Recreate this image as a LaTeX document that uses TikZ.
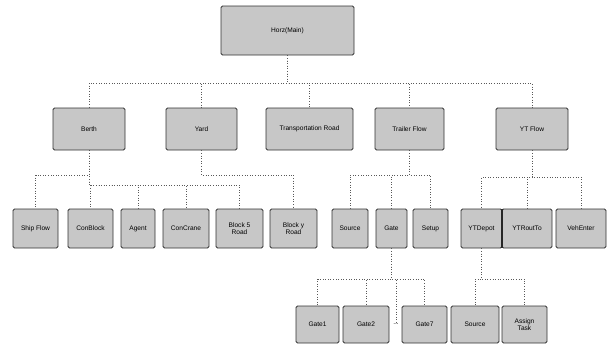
\documentclass[tikz,border=0pt]{standalone}
\usepackage{fontspec}
\setmainfont{Liberation Sans}
\begin{document}
\begin{tikzpicture}[x=1pt,y=-1pt,
  box/.style={draw=black!80,line width=0.9pt,fill=black!22,rounded corners=1.5pt,
    inner sep=1pt,align=center,font=\fontsize{6.6}{7.5}\selectfont},
  conn/.style={draw=black!65,dotted,line width=0.6pt}]
\useasboundingbox (0,0) rectangle (610,346);
% level 1
\node[box,minimum width=133pt,minimum height=49pt] (main) at (287.5,30.5) {Horz(Main)};
% level 2
\node[box,minimum width=72pt,minimum height=42pt] (berth) at (89,129) {Berth};
\node[box,minimum width=71pt,minimum height=42pt] (yard) at (201.5,129) {Yard};
\node[box,minimum width=87pt,minimum height=42pt] (trans) at (309.5,129) {Transportation Road};
\node[box,minimum width=69pt,minimum height=42pt] (trailer) at (409.5,129) {Trailer Flow};
\node[box,minimum width=72pt,minimum height=42pt] (ytflow) at (532,129) {YT Flow};
% level 3
\node[box,minimum width=45pt,minimum height=39pt] (ship) at (35.5,228.5) {Ship Flow};
\node[box,minimum width=45pt,minimum height=39pt] (conblock) at (90.5,228.5) {ConBlock};
\node[box,minimum width=34pt,minimum height=39pt] (agent) at (138,228.5) {Agent};
\node[box,minimum width=46pt,minimum height=39pt] (concrane) at (186,228.5) {ConCrane};
\node[box,minimum width=47pt,minimum height=39pt] (blockx) at (239.5,228.5) {Block 5\\Road};
\node[box,minimum width=47pt,minimum height=39pt] (blocky) at (293.5,228.5) {Block y\\Road};
\node[box,minimum width=36pt,minimum height=39pt] (source) at (350,228.5) {Source};
\node[box,minimum width=31pt,minimum height=39pt] (gate) at (391.5,228.5) {Gate};
\node[box,minimum width=35pt,minimum height=39pt] (setup) at (430.5,228.5) {Setup};
\node[box,minimum width=41pt,minimum height=39pt] (ytdepot) at (481.5,228.5) {YTDepot};
\node[box,minimum width=50pt,minimum height=39pt] (ytrout) at (527,228.5) {YTRoutTo};
\node[box,minimum width=50pt,minimum height=39pt] (veh) at (581,228.5) {VehEnter};
\draw[black!85,line width=2pt] (ytdepot.north east) -- (ytdepot.south east);
% level 4
\node[box,minimum width=43pt,minimum height=37pt] (gate1) at (317.5,324.5) {Gate1};
\node[box,minimum width=46pt,minimum height=37pt] (gate2) at (366,324.5) {Gate2};
\node[inner sep=0pt,font=\fontsize{6.6}{7.5}\selectfont] (dots) at (396,324) {...};
\node[box,minimum width=45pt,minimum height=37pt] (gate7) at (424.5,324.5) {Gate7};
\node[box,minimum width=48pt,minimum height=37pt] (source2) at (475,324.5) {Source};
\node[box,minimum width=45pt,minimum height=37pt] (assign) at (524.5,324.5) {Assign\\Task};
% bus coordinates
\coordinate (b1) at (0,83);
\coordinate (b2) at (0,175);
\coordinate (b3) at (0,185);
\coordinate (b4) at (0,177);
\coordinate (b5) at (0,279);
% connectors
\foreach \c in {berth,yard,trans,trailer,ytflow}
  \draw[conn] (main.south) -- (main.south|-b1) -| (\c.north);
\draw[conn] (berth.south) -- (berth.south|-b2) -| (ship.north);
\foreach \c in {conblock,agent,concrane,blockx}
  \draw[conn] (berth.south) -- (berth.south|-b3) -| (\c.north);
\draw[conn] (yard.south) -- (yard.south|-b2) -| (blocky.north);
\foreach \c in {source,gate,setup}
  \draw[conn] (trailer.south) -- (trailer.south|-b2) -| (\c.north);
\foreach \c in {ytdepot,ytrout,veh}
  \draw[conn] (ytflow.south) -- (ytflow.south|-b4) -| (\c.north);
\foreach \c in {gate1,gate2,dots,gate7}
  \draw[conn] (gate.south) -- (gate.south|-b5) -| (\c.north);
\foreach \c in {source2,assign}
  \draw[conn] (ytdepot.south) -- (ytdepot.south|-b5) -| (\c.north);
\end{tikzpicture}
\end{document}
